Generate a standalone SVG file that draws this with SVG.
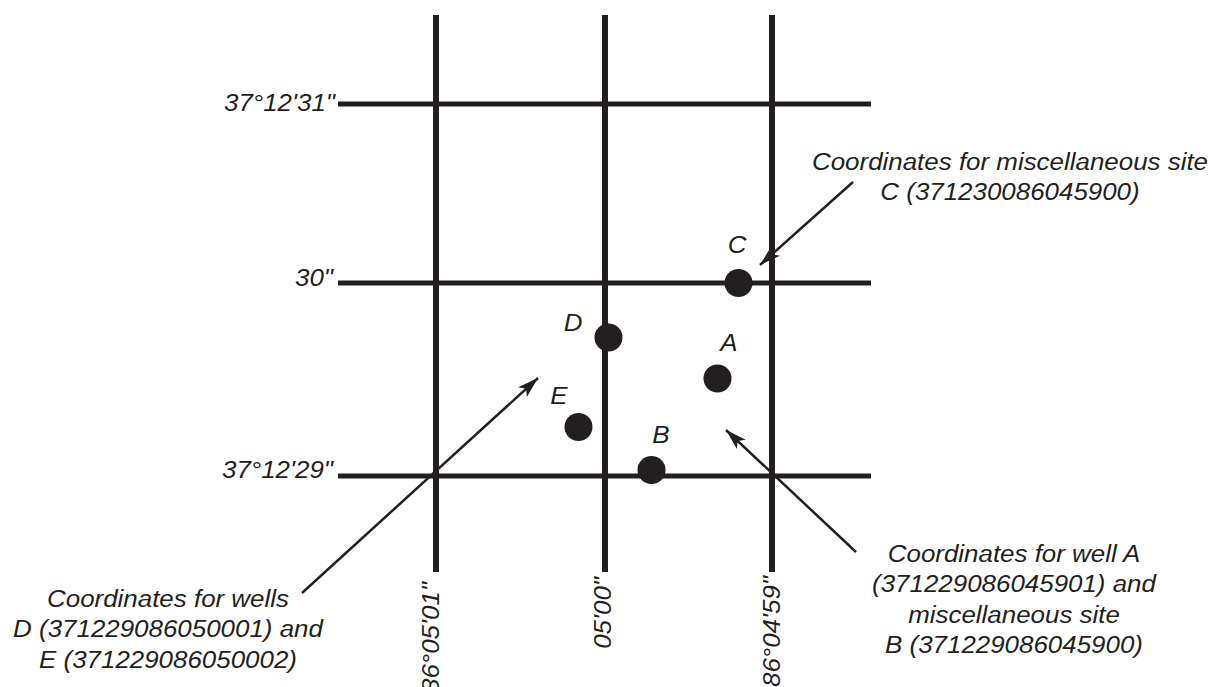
<svg xmlns="http://www.w3.org/2000/svg" width="1222" height="687" viewBox="0 0 1222 687">
<style>
.grid{stroke:#231f20;fill:none}
.v{stroke-width:6}
.h{stroke-width:5}
.dot{fill:#231f20}
.lead{stroke:#231f20;stroke-width:2.5;fill:none}
text{font-family:"Liberation Sans",Arial,sans-serif;font-style:italic;font-size:24px;fill:#231f20}
.c{text-anchor:middle}
.e{text-anchor:end}
</style>
<defs>
<marker id="arr" markerUnits="userSpaceOnUse" markerWidth="24" markerHeight="16" refX="22" refY="8" orient="auto">
<path d="M22,8 L1,1.5 L6,8 L1,14.5 Z" fill="#231f20"/>
</marker>
</defs>
<rect width="1222" height="687" fill="#ffffff"/>
<g id="grid">
<line class="grid v" x1="436" y1="15" x2="436" y2="572"/>
<line class="grid v" x1="605" y1="15" x2="605" y2="572"/>
<line class="grid v" x1="772" y1="15" x2="772" y2="572"/>
<line class="grid h" x1="338" y1="104" x2="871" y2="104"/>
<line class="grid h" x1="338" y1="283" x2="871" y2="283"/>
<line class="grid h" x1="338" y1="476" x2="871" y2="476"/>
</g>
<g id="axis-labels">
<g transform="translate(335,111) scale(1.08,1)"><text class="e" x="0" y="0">37°12'31"</text></g>
<g transform="translate(333,286) scale(1.08,1)"><text class="e" x="0" y="0">30"</text></g>
<g transform="translate(333,478) scale(1.08,1)"><text class="e" x="0" y="0">37°12'29"</text></g>
<g transform="translate(439,582) rotate(-90) scale(1.08,1)"><text class="e" x="0" y="0">86°05'01"</text></g>
<g transform="translate(611,577) rotate(-90) scale(1.08,1)"><text class="e" x="0" y="0">05'00"</text></g>
<g transform="translate(780,576) rotate(-90) scale(1.08,1)"><text class="e" x="0" y="0">86°04'59"</text></g>
</g>
<g id="site-A"><circle class="dot" cx="717.5" cy="378.5" r="14"/><g transform="translate(729,351) scale(1.08,1)"><text class="c" x="0" y="0">A</text></g></g>
<g id="site-B"><circle class="dot" cx="651.5" cy="470" r="14"/><g transform="translate(661,443) scale(1.08,1)"><text class="c" x="0" y="0">B</text></g></g>
<g id="site-C"><circle class="dot" cx="738.5" cy="283" r="14"/><g transform="translate(737,253) scale(1.08,1)"><text class="c" x="0" y="0">C</text></g></g>
<g id="site-D"><circle class="dot" cx="608.5" cy="337.5" r="14"/><g transform="translate(573,331) scale(1.08,1)"><text class="c" x="0" y="0">D</text></g></g>
<g id="site-E"><circle class="dot" cx="578.5" cy="427" r="14"/><g transform="translate(559,404) scale(1.08,1)"><text class="c" x="0" y="0">E</text></g></g>
<g id="connectors">
<line class="lead" x1="302" y1="593" x2="538" y2="378" marker-end="url(#arr)"/>
<line class="lead" x1="853" y1="182" x2="760" y2="265" marker-end="url(#arr)"/>
<line class="lead" x1="856" y1="552" x2="726" y2="430" marker-end="url(#arr)"/>
</g>
<g id="note-DE" transform="translate(168,0) scale(1.08,1)">
<text class="c" x="0" y="607">Coordinates for wells</text>
<text class="c" x="0" y="637.5">D (371229086050001) and</text>
<text class="c" x="0" y="668">E (371229086050002)</text>
</g>
<g id="note-C" transform="translate(1010,0) scale(1.08,1)">
<text class="c" x="0" y="170">Coordinates for miscellaneous site</text>
<text class="c" x="0" y="200.5">C (371230086045900)</text>
</g>
<g id="note-AB" transform="translate(1014,0) scale(1.08,1)">
<text class="c" x="0" y="562">Coordinates for well A</text>
<text class="c" x="0" y="592.5">(371229086045901) and</text>
<text class="c" x="0" y="623">miscellaneous site</text>
<text class="c" x="0" y="653.5">B (371229086045900)</text>
</g>
</svg>
